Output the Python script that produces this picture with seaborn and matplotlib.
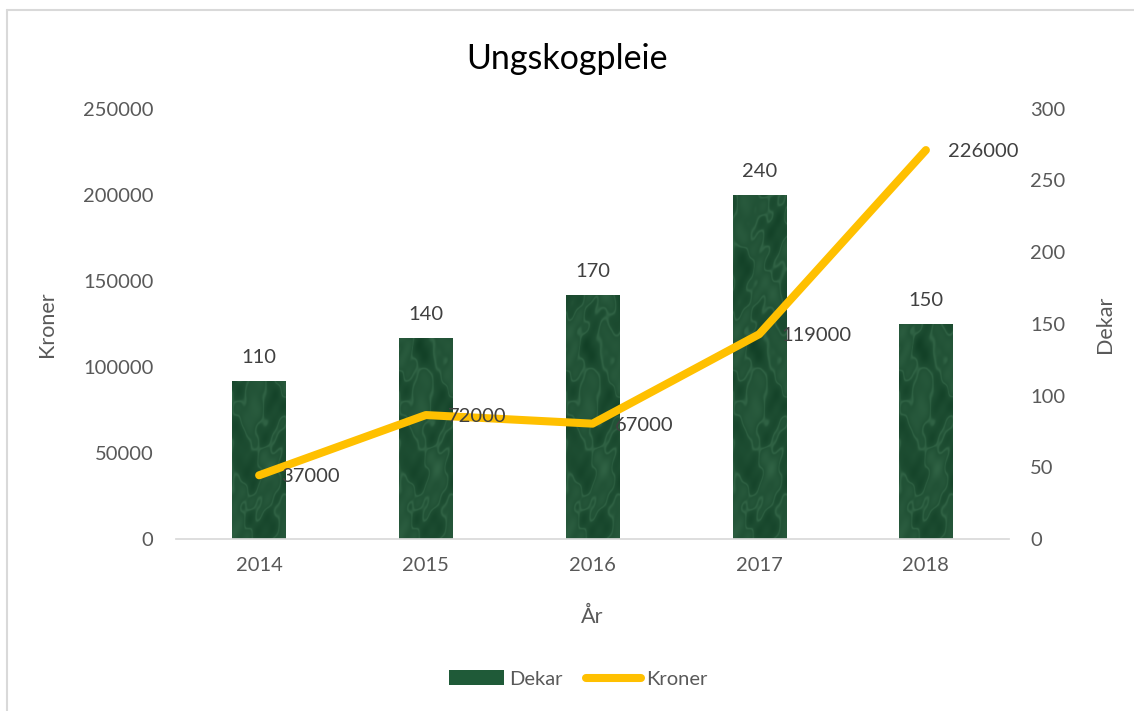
import numpy as np
import matplotlib
matplotlib.use("Agg")
import matplotlib.pyplot as plt
from matplotlib.patches import Patch
from matplotlib.lines import Line2D
import seaborn as sns

# data
years = ["2014", "2015", "2016", "2017", "2018"]
dekar = [110, 140, 170, 240, 150]
kroner = [37000, 72000, 67000, 119000, 226000]

grey = "#595959"
green = "#1f5a38"
gold = "#FFC000"

sns.set_theme(style="white")
plt.rcParams["font.family"] = ["Lato", "DejaVu Sans"]

fig = plt.figure(figsize=(11.34, 7.11), dpi=100)
ax = fig.add_axes([0.155, 0.242, 0.735, 0.605])   # bars (Dekar, right side)
ax2 = ax.twinx()                                   # line (Kroner, left side)

# --- bars ---
sns.barplot(x=years, y=dekar, color=green, width=0.32, saturation=1, ax=ax)

# mottled marble texture clipped to each bar (pure decoration)
gx, gy = np.meshgrid(np.linspace(0, 6, 90), np.linspace(0, 40, 600))
waves = [(1.3, 0.4, 0.0), (-0.9, 0.7, 1.1), (2.1, -0.5, 2.3), (0.5, 1.6, 0.7),
         (-1.7, -1.1, 3.0), (2.9, 1.9, 1.9), (-3.3, 2.4, 0.4), (4.1, -2.7, 1.4)]
n = sum(np.sin(kx * gx + ky * gy + ph) / (1 + 0.3 * j)
        for j, (kx, ky, ph) in enumerate(waves))
veins = np.exp(-(n / 0.25) ** 2)
base = (n - n.min()) / (n.max() - n.min())
dark = np.array([0.07, 0.25, 0.15])
light = np.array([0.33, 0.55, 0.41])
mix = np.clip(0.45 * base + 0.25 * veins, 0, 1)
rgb = dark + (light - dark) * mix[..., None]
for bar in ax.patches:
    x0, w = bar.get_x(), bar.get_width()
    im = ax.imshow(rgb, extent=(x0, x0 + w, 0, 300), aspect="auto",
                   origin="lower", zorder=bar.get_zorder() + 0.1, interpolation="bilinear")
    im.set_clip_path(bar)

ax.bar_label(ax.containers[0], labels=[str(v) for v in dekar], padding=11,
             fontsize=14.5, color="#404040")

# --- line ---
xpos = np.arange(len(years))
sns.lineplot(x=xpos, y=kroner, color=gold, linewidth=5.8, ax=ax2,
             solid_capstyle="round", solid_joinstyle="round")
for i, v in enumerate(kroner):
    ax2.annotate(str(v), (xpos[i], v), xytext=(16, -1), textcoords="offset points",
                 va="center", ha="left", fontsize=14.5, color="#404040")

# --- axes ---
ax.set_xlim(-0.5, len(years) - 0.5)
ax.set_ylim(0, 300)
ax2.set_ylim(0, 250000)
ax.set_yticks(range(0, 301, 50))
ax2.set_yticks(range(0, 250001, 50000))

ax.yaxis.tick_right()
ax.yaxis.set_label_position("right")
ax2.yaxis.tick_left()
ax2.yaxis.set_label_position("left")

ax.tick_params(axis="y", length=0, pad=15, labelsize=14.5, labelcolor=grey)
ax.tick_params(axis="x", length=0, pad=13, labelsize=14.5, labelcolor=grey)
ax2.tick_params(axis="y", length=0, pad=16, labelsize=14.5, labelcolor=grey)

ax.set_xlabel("År", fontsize=15.5, color=grey)
ax.xaxis.set_label_coords(0.5, -0.158)
ax.set_ylabel("Dekar", fontsize=15.5, color=grey)
ax.yaxis.set_label_coords(1.103, 0.5)
ax2.set_ylabel("Kroner", fontsize=15.5, color=grey)
ax2.yaxis.set_label_coords(-0.142, 0.5)

for a in (ax, ax2):
    for s in ("top", "left", "right"):
        a.spines[s].set_visible(False)
    a.spines["bottom"].set_color("#d9d9d9")
    a.grid(False)
ax2.spines["bottom"].set_visible(False)

fig.suptitle("Ungskogpleie", y=0.94, fontsize=24.5, color="black")

handles = [Patch(facecolor=green, edgecolor="none"),
           Line2D([0], [0], color=gold, linewidth=5.8, solid_capstyle="round")]
fig.legend(handles, ["Dekar", "Kroner"], loc="center", bbox_to_anchor=(0.51, 0.045),
           ncol=2, frameon=False, fontsize=14.5, labelcolor=grey,
           handlelength=2.7, handletextpad=0.25, columnspacing=1.2)

# light chart border (top and left edges visible)
fig.add_artist(Line2D([0.006, 0.006], [0, 0.986], transform=fig.transFigure,
                      color="#d9d9d9", linewidth=1.5))
fig.add_artist(Line2D([0.006, 1], [0.986, 0.986], transform=fig.transFigure,
                      color="#d9d9d9", linewidth=1.5))

fig.savefig("out.png", dpi=100)
